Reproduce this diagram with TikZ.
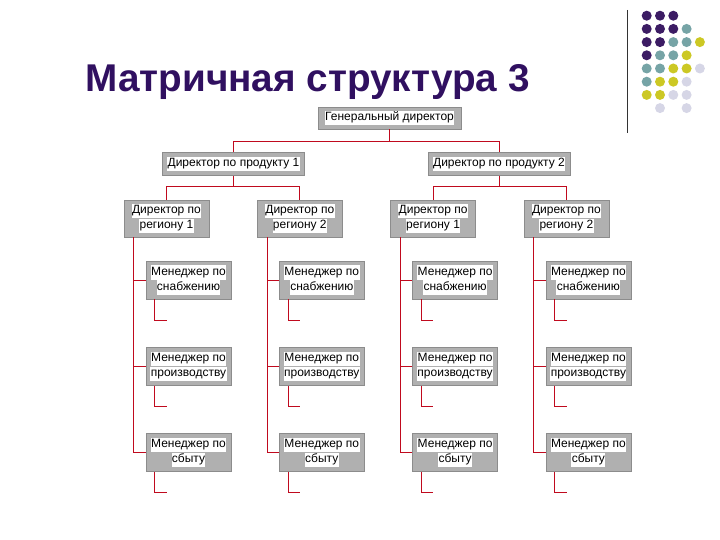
\documentclass[tikz,border=0pt]{standalone}
\usepackage{fontspec}
\setmainfont{Liberation Sans}
\usetikzlibrary{positioning, calc}
\definecolor{titlepurple} {RGB}{ 48,  16,  96}
\definecolor{linkred}     {RGB}{192,  10,  30}
\definecolor{boxgray}     {RGB}{176, 176, 176}
\definecolor{boxedge}     {RGB}{140, 140, 140}
\definecolor{dotP}        {RGB}{ 60,  28, 100}
\definecolor{dotT}        {RGB}{118, 164, 166}
\definecolor{dotY}        {RGB}{204, 200,  36}
\definecolor{dotL}        {RGB}{214, 214, 230}
\newcommand{\wl}[1]{{\setlength{\fboxsep}{0.4pt}\colorbox{white}{\strut #1}}}
\tikzset{
	box/.style={draw=boxedge, fill=boxgray, inner sep=0pt, minimum width=85pt,
		minimum height=37pt, align=center, font=\fontsize{12}{13.5}\selectfont},
	link/.style={draw=linkred, line width=0.8pt}
}

\begin{document}
\begin{tikzpicture}[x=1pt, y=-1pt]
	\useasboundingbox (0,0) rectangle (720,540);
	% title and corner dots
	\node[anchor=base, text=titlepurple, font=\fontsize{38.7}{42}\selectfont\bfseries] (title) at (307.5,92) {Матричная структура 3};
	\draw[black!80, line width=0.8pt] (627,10) -- (627,133);
	\foreach \c/\r/\col in {0/0/dotP,1/0/dotP,2/0/dotP,
		0/1/dotP,1/1/dotP,2/1/dotP,3/1/dotT,
		0/2/dotP,1/2/dotP,2/2/dotT,3/2/dotT,4/2/dotY,
		0/3/dotP,1/3/dotT,2/3/dotT,3/3/dotY,
		0/4/dotT,1/4/dotT,2/4/dotY,3/4/dotY,4/4/dotL,
		0/5/dotT,1/5/dotY,2/5/dotY,3/5/dotL,
		0/6/dotY,1/6/dotY,2/6/dotL,3/6/dotL,
		1/7/dotL,3/7/dotL}
		{\fill[\col] (646.7+13.3*\c, 15.7+13.2*\r) circle (5pt);}
	% top levels
	\node[box, minimum width=143pt, minimum height=22pt] (ceo) at (389.5,118) {\wl{Генеральный директор}};
	\node[box, minimum width=142pt, minimum height=23pt] (p0) at (233.5,164) {\wl{Директор по продукту 1}};
	\node[box, minimum width=142pt, minimum height=23pt] (p1) at (499,164) {\wl{Директор по продукту 2}};
	\coordinate (bus) at (0,141);
	\draw[link] (ceo.south) -- (ceo.south |- bus);
	\draw[link] (p0.north) -- (p0.north |- bus) -- (p1.north |- bus) -- (p1.north);
	% regions and managers
	\foreach \k/\n in {0/1,1/2,2/1,3/2}{
		\pgfmathsetmacro\L{124+133.3*\k}
		\node[box] (r\k) at (\L+42.5,218.5) {\wl{Директор по}\\\wl{региону \n}};
		\foreach \j/\y/\t in {1/280/снабжению,2/366.5/производству,3/452.5/сбыту}{
			\node[box, minimum height=38pt] (m\k\j) at (\L+64.5,\y) {\wl{Менеджер по}\\\wl{\t}};
			\draw[link] (m\k\j.west) -- ++(-12,0);
			\draw[link] ($(m\k\j.south west)+(9,0)$) -- ++(0,21) -- ++(12,0);
		}
		\draw[link] ($(r\k.south west)+(10,0)$) |- (m\k3.west);
	}
	\draw[link] (p0.south) -- ++(0,11);
	\draw[link] (p1.south) -- ++(0,11);
	\draw[link] (r0.north) -- ++(0,-13) -| (r1.north);
	\draw[link] (r2.north) -- ++(0,-13) -| (r3.north);
\end{tikzpicture}
\end{document}
